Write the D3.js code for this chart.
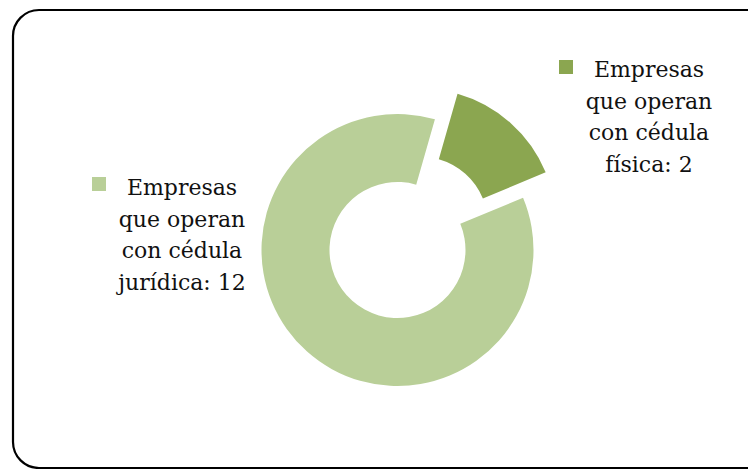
<!DOCTYPE html>
<html>
<head>
<meta charset="utf-8">
<script src="https://cdn.jsdelivr.net/npm/d3@7"></script>
<style>
  body { margin: 0; background: #fff; }
  svg { display: block; }
</style>
</head>
<body>
<div id="chartArea"></div>
<script>
// donut data, juridica first, drawn clockwise
var categories = ['Empresas que operan con cédula jurídica', 'Empresas que operan con cédula física'];
var values = [12, 2];
var legendLines = [
    ['Empresas', 'que operan', 'con cédula', 'jurídica: 12'],
    ['Empresas', 'que operan', 'con cédula', 'física: 2']
];
var colors = ['#b9cf98', '#8ba650'];

var w = 748, h = 469;
var cx = 397.5, cy = 250, rOuter = 136, rInner = 68;
var explode = [0, 34];

var svg = d3.select('#chartArea').append('svg')
    .attr('width', w)
    .attr('height', h);

// chart frame (runs past the right and bottom edges)
svg.append('rect')
    .attr('x', 13).attr('y', 10)
    .attr('width', 760).attr('height', 458)
    .attr('rx', 26).attr('ry', 26)
    .attr('fill', 'none')
    .attr('stroke', '#000')
    .attr('stroke-width', 2.2);

var startDeg = 67.4;
var pie = d3.pie()
    .sort(null)
    .value(function (d) { return d; })
    .startAngle(startDeg * Math.PI / 180)
    .endAngle((startDeg + 360) * Math.PI / 180);

var arc = d3.arc().innerRadius(rInner).outerRadius(rOuter);

var g = svg.append('g')
    .attr('transform', 'translate(' + cx + ',' + cy + ')');

g.selectAll('path')
    .data(pie(values))
    .enter()
    .append('path')
    .attr('d', arc)
    .attr('fill', function (d, i) { return colors[i]; })
    .attr('transform', function (d, i) {
        var mid = (d.startAngle + d.endAngle) / 2;
        var dx = Math.sin(mid) * explode[i], dy = -Math.cos(mid) * explode[i];
        return 'translate(' + dx + ',' + dy + ')';
    });

// legend blocks
var legendPos = [
    {sx: 92, sy: 177, tx: 182, ty: 195},
    {sx: 559, sy: 60, tx: 649, ty: 77}
];
var lineH = 31.5;

legendPos.forEach(function (p, i) {
    svg.append('rect')
        .attr('x', p.sx).attr('y', p.sy)
        .attr('width', 14).attr('height', 14)
        .attr('fill', colors[i]);
    svg.append('text')
        .attr('font-family', 'DejaVu Serif, serif')
        .attr('font-size', 22)
        .attr('fill', '#111')
        .attr('text-anchor', 'middle')
        .selectAll('tspan')
        .data(legendLines[i])
        .enter()
        .append('tspan')
        .attr('x', p.tx)
        .attr('y', function (d, j) { return p.ty + j * lineH; })
        .text(function (d) { return d; });
});
</script>
</body>
</html>
